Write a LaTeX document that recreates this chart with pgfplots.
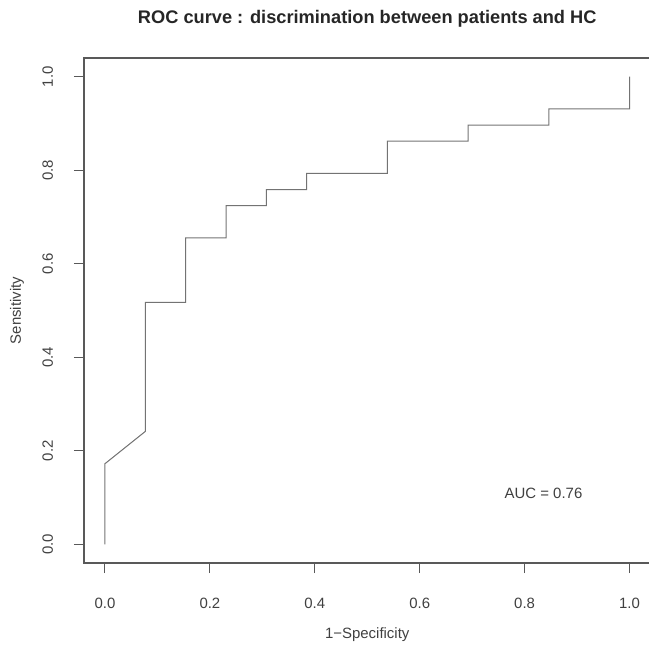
\documentclass[border=0pt]{standalone}
\usepackage{fontspec}
\setmainfont{Liberation Sans}
\usepackage{pgfplots}
\pgfplotsset{compat=1.18}
\begin{document}
\begin{tikzpicture}
\begin{axis}[
  scale only axis,
  width=566.5bp, height=505bp,
  xmin=-0.04, xmax=1.04, ymin=-0.04, ymax=1.04,
  axis line style={black!65, line width=1.1bp},
  xtick={0,0.2,0.4,0.6,0.8,1},
  ytick={0,0.2,0.4,0.6,0.8,1},
  xtick pos=bottom, ytick pos=left,
  tick align=outside, major tick length=10bp,
  tick style={black!65, line width=1bp},
  /pgf/number format/fixed,
  /pgf/number format/fixed zerofill,
  /pgf/number format/precision=1,
  /pgf/number format/assume math mode=true,
  ticklabel style={font=\fontsize{15}{18}\selectfont, text=black!75, inner sep=0pt},
  xticklabel style={anchor=base},
  xticklabel shift=35bp,
  yticklabel style={rotate=90, anchor=base},
  yticklabel shift=21bp,
  xlabel={1−Specificity},
  ylabel={Sensitivity},
  every axis x label/.style={at={(axis description cs:0.5,0)}, anchor=base, yshift=-75bp, inner sep=0pt, font=\fontsize{15}{18}\selectfont, text=black!75},
  every axis y label/.style={at={(axis description cs:0,0.5)}, xshift=-63bp, rotate=90, anchor=base, inner sep=0pt, font=\fontsize{15}{18}\selectfont, text=black!75},
  title={ROC curve : discrimination between patients and HC},
  every axis title/.style={at={(axis description cs:0.5,1)}, anchor=base, yshift=34.5bp, inner sep=0pt, font=\bfseries\fontsize{18.3}{21}\selectfont, text=black!85},
]
\addplot[black!55, line width=1bp] coordinates {
  (0,0) (0,0.1724) (0.0769,0.2414) (0.0769,0.5172) (0.1538,0.5172)
  (0.1538,0.6552) (0.2308,0.6552) (0.2308,0.7241) (0.3077,0.7241)
  (0.3077,0.7586) (0.3846,0.7586) (0.3846,0.7931) (0.5385,0.7931)
  (0.5385,0.8621) (0.6923,0.8621) (0.6923,0.8966) (0.8462,0.8966)
  (0.8462,0.9310) (1,0.9310) (1,1)
};
\node[font=\fontsize{15}{18}\selectfont, text=black!75] at (axis cs:0.836,0.109) {AUC = 0.76};
\end{axis}
\pgfresetboundingbox
\path (current axis.south west) ++(-84bp,-83bp) rectangle ++(649bp,646bp);
\end{tikzpicture}
\end{document}
